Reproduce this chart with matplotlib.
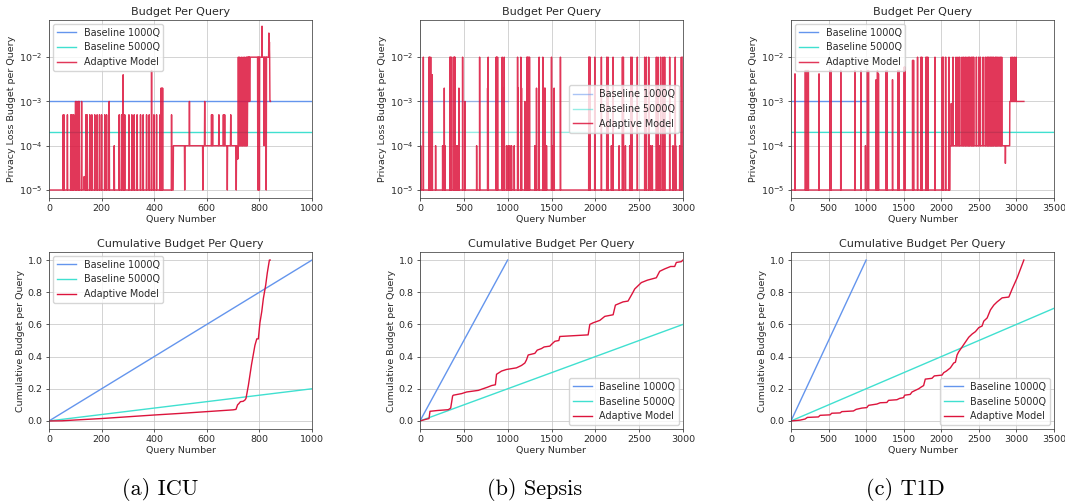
import numpy as np
import matplotlib
matplotlib.use("Agg")
import matplotlib.pyplot as plt
from matplotlib.ticker import NullLocator

# ---------------- data ----------------
datasets = ["ICU", "Sepsis", "T1D"]
captions = ["(a) ICU", "(b) Sepsis", "(c) T1D"]
series_names = ["Baseline 1000Q", "Baseline 5000Q", "Adaptive Model"]
baseline_1000q_budget = 1e-3
baseline_5000q_budget = 2e-4
baseline_1000q_len = [1000, 1000, 1000]
baseline_5000q_len = [1000, 3000, 3500]
x_max = [1000, 3000, 3500]

# --- ICU per-query budget: base levels + spikes
icu_n = 843
icu_level_start = [0, 473, 755, 765, 840]
icu_level_value = [1e-5, 1e-4, 1e-3, 1e-2, 1e-3]
icu_spike_levels = [5e-4, 1e-3, 2e-5, 1e-4, 4e-3, 5e-3, 2e-3, 1e-5, 5e-5, 1e-2, 5e-2, 3.5e-2, 2.2e-2]
icu_spike_queries = [
    [54, 57, 70, 83, 88, 94, 140, 145, 155, 163, 174, 183, 192, 200, 212, 219, 267, 276,
     288, 304, 315, 324, 335, 348, 358, 371, 381, 399, 409, 422, 466, 618, 622, 646, 663,
     668, 691, 735],
    [101, 106, 112, 115, 124, 229, 534, 592, 727, 747],
    [133, 134, 135],
    [248, 818],
    [282],
    [390],
    [426, 429, 432],
    [516, 585, 678, 712, 794, 797, 800, 826],
    [714, 716, 718],
    [720, 724, 731, 738, 744, 750, 753, 756, 758, 760, 762, 764],
    [810],
    [836],
    [838],
]

# --- Sepsis per-query budget
sep_n = 3001
sep_level_start = [0]
sep_level_value = [1e-5]
sep_spike_levels = [1e-2, 4e-3, 2e-3, 1e-3, 1e-4]
sep_spike_queries = [
    [38, 103, 108, 122, 342, 346, 361, 387, 391, 399, 486, 680, 778, 870, 874, 885, 938,
     961, 1113, 1150, 1219, 1226, 1238, 1249, 1359, 1401, 1500, 1602, 1925, 1930, 1940,
     1993, 2069, 2130, 2145, 2202, 2309, 2320, 2404, 2419, 2479, 2563, 2582, 2609, 2696,
     2715, 2745, 2772, 2791, 2848, 2912, 2981, 3000],
    [140],
    [277, 444, 771, 942, 1120, 1158, 1242, 1329, 1416, 1428, 1530],
    [513, 1196],
    [8, 178, 258, 285, 410, 425, 646, 987, 1006, 1025, 1044, 1075, 1310, 1424, 1443, 1519,
     2183, 2271, 2343, 2392, 2631, 2650, 2734, 2886, 2916, 2962],
]

# --- T1D per-query budget
t1d_n = 3100
t1d_level_start = [0, 2116, 2911]
t1d_level_value = [1e-5, 1e-4, 1e-3]
t1d_spike_levels = [1e-2, 8.5e-3, 6e-3, 5e-3, 4.2e-3, 3.1e-3, 9e-4, 1e-4, 4e-5]
t1d_spike_queries = [
    [1684, 1729, 1742, 1796, 1809, 1822, 1916, 2013, 2027, 2058, 2102, 2156, 2196, 2222,
     2244, 2276, 2298, 2320, 2342, 2364, 2378, 2400, 2418, 2431, 2467, 2498, 2520, 2556,
     2587, 2609, 2622, 2636, 2653, 2667, 2684, 2698, 2720, 2733, 2751, 2769, 2787, 2804,
     2929, 2951, 2974, 2996],
    [1618, 1631],
    [1507, 1516],
    [191, 204, 218, 231, 520, 533, 662, 849, 933, 1018, 1031, 1151, 1267, 1276, 1422, 1436],
    [53, 373, 1164],
    [1133, 1351],
    [2133],
    [991],
    [2853],
]

# --- cumulative budget of the adaptive model
icu_cum_q = [0, 50, 100, 200, 300, 400, 500, 600, 700, 711, 717, 722, 728, 738, 745, 749,
             758, 770, 783, 790, 796, 802, 809, 815, 824, 830, 834, 838, 841]
icu_cum_v = [0, 0.001, 0.006, 0.015, 0.026, 0.037, 0.047, 0.058, 0.069, 0.072, 0.10, 0.108,
             0.12, 0.122, 0.13, 0.14, 0.22, 0.35, 0.47, 0.51, 0.51, 0.61, 0.68, 0.76, 0.845,
             0.92, 0.96, 1.0, 1.0]
sep_cum_q = [0, 65, 103, 114, 200, 323, 350, 372, 380, 475, 532, 665, 771, 817, 860, 873,
             930, 987, 1100, 1158, 1196, 1215, 1234, 1310, 1337, 1386, 1416, 1481, 1508, 1538,
             1584, 1595, 1918, 1937, 1975, 2051, 2108, 2203, 2229, 2316, 2373, 2430, 2449,
             2525, 2594, 2696, 2734, 2791, 2859, 2905, 2924, 2981, 3000]
sep_cum_v = [0, 0.01, 0.015, 0.06, 0.065, 0.07, 0.08, 0.155, 0.16, 0.17, 0.18, 0.19, 0.21,
             0.22, 0.225, 0.29, 0.31, 0.32, 0.33, 0.345, 0.36, 0.38, 0.41, 0.42, 0.44, 0.45,
             0.46, 0.465, 0.48, 0.495, 0.5, 0.525, 0.535, 0.6, 0.61, 0.625, 0.65, 0.66, 0.72,
             0.74, 0.745, 0.8, 0.82, 0.86, 0.875, 0.89, 0.93, 0.945, 0.96, 0.96, 0.985, 0.99,
             1.0]
t1d_cum_q = [0, 120, 187, 218, 365, 387, 520, 542, 654, 676, 831, 867, 943, 1009, 1032, 1143,
             1187, 1276, 1298, 1410, 1445, 1498, 1512, 1587, 1610, 1654, 1699, 1730, 1765,
             1787, 1876, 1907, 2010, 2032, 2068, 2121, 2165, 2188, 2210, 2232, 2277, 2321,
             2365, 2410, 2454, 2499, 2543, 2565, 2610, 2654, 2699, 2743, 2810, 2899, 2943,
             3010, 3099]
t1d_cum_v = [0, 0.005, 0.012, 0.022, 0.025, 0.035, 0.038, 0.048, 0.05, 0.058, 0.062, 0.072,
             0.08, 0.083, 0.097, 0.105, 0.113, 0.115, 0.128, 0.132, 0.14, 0.145, 0.16, 0.165,
             0.18, 0.19, 0.2, 0.21, 0.22, 0.26, 0.265, 0.28, 0.285, 0.3, 0.31, 0.33, 0.36,
             0.365, 0.41, 0.43, 0.46, 0.49, 0.52, 0.54, 0.555, 0.58, 0.59, 0.62, 0.64, 0.69,
             0.72, 0.74, 0.765, 0.77, 0.82, 0.89, 1.0]

per_query = [
    (icu_n, icu_level_start, icu_level_value, icu_spike_levels, icu_spike_queries),
    (sep_n, sep_level_start, sep_level_value, sep_spike_levels, sep_spike_queries),
    (t1d_n, t1d_level_start, t1d_level_value, t1d_spike_levels, t1d_spike_queries),
]
cumulative = [(icu_cum_q, icu_cum_v), (sep_cum_q, sep_cum_v), (t1d_cum_q, t1d_cum_v)]


def build_budget(n, starts, values, spike_levels, spike_queries):
    y = np.empty(n)
    ends = list(starts[1:]) + [n]
    for s, e, v in zip(starts, ends, values):
        y[s:e] = v
    for lvl, qs in zip(spike_levels, spike_queries):
        y[np.array(qs)] = lvl
    return np.arange(n), y


# ---------------- style ----------------
C_1000 = "#6495ED"
C_5000 = "#40E0D0"
C_ADA = "#DC143C"
plt.rcParams.update({
    "font.family": "DejaVu Sans",
    "font.size": 6.8,
    "text.color": "#2a2a2a",
    "axes.labelcolor": "#2a2a2a",
    "xtick.color": "#2a2a2a",
    "ytick.color": "#2a2a2a",
    "axes.edgecolor": "#404040",
    "axes.linewidth": 0.55,
    "xtick.major.width": 0.55,
    "ytick.major.width": 0.55,
    "xtick.major.size": 2.3,
    "ytick.major.size": 2.3,
    "xtick.major.pad": 2.3,
    "ytick.major.pad": 2.3,
    "grid.linewidth": 0.55,
    "grid.color": "#c8c8c8",
    "legend.fontsize": 6.9,
})

W, H = 1065, 504
fig = plt.figure(figsize=(W / 100, H / 100), dpi=100)

col_left = [49, 420, 791]
ax_w = 263
top_box = (20, 198)
bot_box = (252, 429)
legend_top = ["upper left", "center right", "upper left"]
legend_bot = ["upper left", "lower right", "lower right"]
top_alpha = [1.0, 0.55, 1.0]


def add_ax(left, box):
    t, b = box
    return fig.add_axes([left / W, (H - b) / H, ax_w / W, (b - t) / H])


for i in range(3):
    # ----- top: budget per query (log scale)
    ax = add_ax(col_left[i], top_box)
    q1 = np.arange(baseline_1000q_len[i])
    q5 = np.arange(baseline_5000q_len[i])
    ax.plot(q1, np.full(q1.size, baseline_1000q_budget), color=C_1000, lw=1.0,
            alpha=top_alpha[i], label=series_names[0])
    ax.plot(q5, np.full(q5.size, baseline_5000q_budget), color=C_5000, lw=1.0,
            alpha=top_alpha[i], label=series_names[1])
    xq, yq = build_budget(*per_query[i])
    ax.plot(xq, yq, color=C_ADA, lw=1.05, alpha=0.85, label=series_names[2])
    ax.set_yscale("log")
    ax.set_ylim(6.6e-6, 6.9e-2)
    ax.set_xlim(0, x_max[i])
    ax.yaxis.set_minor_locator(NullLocator())
    ax.grid(True)
    ax.set_axisbelow(True)
    ax.set_title("Budget Per Query", fontsize=8, pad=3.5)
    ax.set_xlabel("Query Number", labelpad=1.5)
    ax.set_ylabel("Privacy Loss Budget per Query", labelpad=2)
    ax.legend(loc=legend_top[i], framealpha=0.8, borderaxespad=0.4)

    # ----- bottom: cumulative budget
    ax2 = add_ax(col_left[i], bot_box)
    ax2.plot(np.concatenate([[0], q1 + 1]),
             np.concatenate([[0], np.cumsum(np.full(q1.size, baseline_1000q_budget))]),
             color=C_1000, lw=1.0, label=series_names[0])
    ax2.plot(np.concatenate([[0], q5 + 1]),
             np.concatenate([[0], np.cumsum(np.full(q5.size, baseline_5000q_budget))]),
             color=C_5000, lw=1.0, label=series_names[1])
    cq, cv = cumulative[i]
    ax2.plot(cq, cv, color=C_ADA, lw=1.0, label=series_names[2])
    ax2.set_xlim(0, x_max[i])
    ax2.set_ylim(-0.05, 1.05)
    ax2.set_yticks([0.0, 0.2, 0.4, 0.6, 0.8, 1.0])
    ax2.grid(True)
    ax2.set_axisbelow(True)
    ax2.set_title("Cumulative Budget Per Query", fontsize=8, pad=3.5)
    ax2.set_xlabel("Query Number", labelpad=1.5)
    ax2.set_ylabel("Cumulative Budget per Query", labelpad=2)
    ax2.legend(loc=legend_bot[i], framealpha=0.8, borderaxespad=0.4)

caption_x = [160, 535, 905]
for cx, cap in zip(caption_x, captions):
    fig.text(cx / W, (H - 495) / H, cap, ha="center", va="baseline",
             fontsize=16, family=["cmr10", "DejaVu Serif"], color="black")

fig.savefig("out.png", dpi=100, facecolor="white")
